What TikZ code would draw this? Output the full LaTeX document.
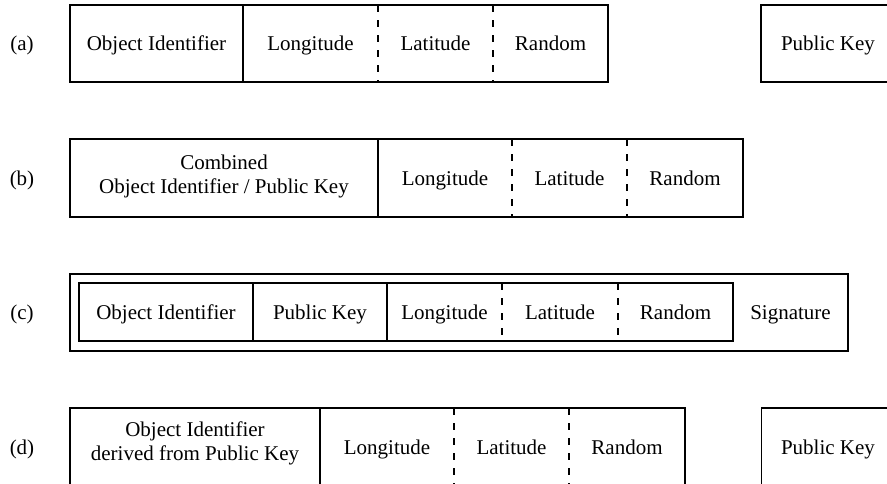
\documentclass[tikz,border=0pt]{standalone}
\usepackage{fontspec}
\setmainfont{Liberation Serif}
\begin{document}
\begin{tikzpicture}[x=1pt,y=-1pt,
  box/.style={line width=1.3pt},
  sep/.style={line width=1.1pt, dash pattern=on 7pt off 8pt},
  lbl/.style={font=\fontsize{21}{24}\selectfont, align=center, inner sep=0pt},
  one/.style={lbl, text height=14pt, text depth=0pt, anchor=base}]
\useasboundingbox (0,0) rectangle (887,483);
\clip (0,0) rectangle (887,483);
% row (a)
\draw[box] (70,5) rectangle (608,82);
\draw[box] (243,5) -- (243,82);
\draw[sep] (378,5) -- (378,82);
\draw[sep] (493,5) -- (493,82);
\draw[box] (761,5) rectangle (900,82);
\node[one] (la) at (22,50.5) {(a)};
\node[one] (a1) at (156.5,50.5) {Object Identifier};
\node[one] (a2) at (310.5,50.5) {Longitude};
\node[one] (a3) at (435.5,50.5) {Latitude};
\node[one] (a4) at (550.5,50.5) {Random};
\node[one] (a5) at (828,50.5) {Public Key};
% row (b)
\draw[box] (70,139) rectangle (743,217);
\draw[box] (378,139) -- (378,217);
\draw[sep] (512,139) -- (512,217);
\draw[sep] (627,139) -- (627,217);
\node[one] (lb) at (22,185) {(b)};
\node[lbl] (b1) at (224,176) {Combined\\Object Identifier / Public Key};
\node[one] (b2) at (445,185) {Longitude};
\node[one] (b3) at (569.5,185) {Latitude};
\node[one] (b4) at (685,185) {Random};
% row (c)
\draw[box] (70,274) rectangle (848,351);
\draw[box] (79,283) rectangle (733,341);
\draw[box] (253,283) -- (253,341);
\draw[box] (387,283) -- (387,341);
\draw[sep] (502,283) -- (502,341);
\draw[sep] (618,283) -- (618,341);
\node[one] (lc) at (22,319) {(c)};
\node[one] (c1) at (166,319) {Object Identifier};
\node[one] (c2) at (320,319) {Public Key};
\node[one] (c3) at (444.5,319) {Longitude};
\node[one] (c4) at (560,319) {Latitude};
\node[one] (c5) at (675.5,319) {Random};
\node[one] (c6) at (790.5,319) {Signature};
% row (d)
\draw[box] (70,408) rectangle (685,490);
\draw[box] (320,408) -- (320,490);
\draw[sep] (454,408) -- (454,490);
\draw[sep] (569,408) -- (569,490);
\draw[box] (761.5,408) rectangle (900,490);
\node[one] (ld) at (22,454) {(d)};
\node[lbl] (d1) at (195,443) {Object Identifier\\derived from Public Key};
\node[one] (d2) at (387,454) {Longitude};
\node[one] (d3) at (511.5,454) {Latitude};
\node[one] (d4) at (627,454) {Random};
\node[one] (d5) at (828,454) {Public Key};
\end{tikzpicture}
\end{document}
